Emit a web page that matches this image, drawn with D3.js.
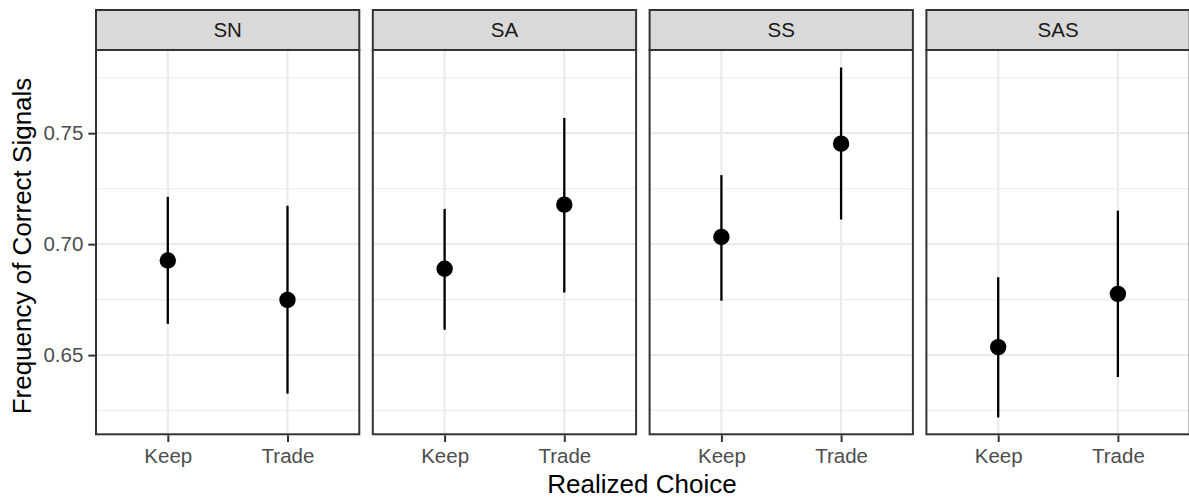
<!DOCTYPE html>
<html>
<head>
<meta charset="utf-8">
<script src="https://cdn.jsdelivr.net/npm/d3@7"></script>
<style>
  body { margin: 0; background: #fff; }
  text { font-family: "Liberation Sans", Arial, sans-serif; }
</style>
</head>
<body>
<div id="chart"></div>
<script>
// chart data
var facets = ["SN", "SA", "SS", "SAS"];
var choices = ["Keep", "Trade"];
var yTicks = [0.65, 0.70, 0.75];
var yMinor = [0.625, 0.675, 0.725, 0.775];

// mean, lower, upper for each facet, in choices order
var means = {
  SN:  [0.6926, 0.6749],
  SA:  [0.6889, 0.7178],
  SS:  [0.7032, 0.7453],
  SAS: [0.6536, 0.6776]
};
var lowers = {
  SN:  [0.6641, 0.6326],
  SA:  [0.6614, 0.6782],
  SS:  [0.6745, 0.7111],
  SAS: [0.6219, 0.6401]
};
var uppers = {
  SN:  [0.7213, 0.7173],
  SA:  [0.7159, 0.7569],
  SS:  [0.7311, 0.7796],
  SAS: [0.6851, 0.7151]
};

var width = 1189;
var height = 500;

var panelTop = 50, panelBottom = 434.3;
var stripTop = 10;

var svg = d3.select("#chart").append("svg")
    .attr("width", width)
    .attr("height", height);

// panels laid out side by side
var facetScale = d3.scaleBand()
    .domain(facets)
    .range([96, 1189.7])
    .paddingInner(0.0488)
    .paddingOuter(0);

var y = d3.scaleLinear()
    .domain([0.6143, 0.7875])
    .range([panelBottom, panelTop]);

facets.forEach(function(f, fi) {
  var x0 = facetScale(f);
  var bw = facetScale.bandwidth();
  var x = d3.scalePoint().domain(choices).range([x0, x0 + bw]).padding(0.6);

  var g = svg.append("g");

  // background
  g.append("rect")
    .attr("x", x0).attr("y", panelTop)
    .attr("width", bw).attr("height", panelBottom - panelTop)
    .attr("fill", "#fff");

  // minor grid
  g.selectAll(".minor").data(yMinor).enter().append("line")
    .attr("x1", x0).attr("x2", x0 + bw)
    .attr("y1", function(d) { return y(d); })
    .attr("y2", function(d) { return y(d); })
    .attr("stroke", "#ebebeb").attr("stroke-width", 1.1);

  // major grid
  g.selectAll(".majory").data(yTicks).enter().append("line")
    .attr("x1", x0).attr("x2", x0 + bw)
    .attr("y1", function(d) { return y(d); })
    .attr("y2", function(d) { return y(d); })
    .attr("stroke", "#ebebeb").attr("stroke-width", 2.2);

  g.selectAll(".majorx").data(choices).enter().append("line")
    .attr("x1", function(d) { return x(d); })
    .attr("x2", function(d) { return x(d); })
    .attr("y1", panelTop).attr("y2", panelBottom)
    .attr("stroke", "#ebebeb").attr("stroke-width", 2.2);

  // error bars + points
  var rows = choices.map(function(c, i) {
    return {c: c, m: means[f][i], lo: lowers[f][i], hi: uppers[f][i]};
  });

  g.selectAll(".bar").data(rows).enter().append("line")
    .attr("x1", function(d) { return x(d.c); })
    .attr("x2", function(d) { return x(d.c); })
    .attr("y1", function(d) { return y(d.lo); })
    .attr("y2", function(d) { return y(d.hi); })
    .attr("stroke", "#000").attr("stroke-width", 2.3);

  g.selectAll(".pt").data(rows).enter().append("circle")
    .attr("cx", function(d) { return x(d.c); })
    .attr("cy", function(d) { return y(d.m); })
    .attr("r", 8.2)
    .attr("fill", "#000");

  // panel border
  g.append("rect")
    .attr("x", x0).attr("y", panelTop)
    .attr("width", bw).attr("height", panelBottom - panelTop)
    .attr("fill", "none").attr("stroke", "#333").attr("stroke-width", 2);

  // strip
  g.append("rect")
    .attr("x", x0).attr("y", stripTop)
    .attr("width", bw).attr("height", panelTop - stripTop)
    .attr("fill", "#d9d9d9").attr("stroke", "#333").attr("stroke-width", 2);

  g.append("text")
    .attr("x", x0 + bw / 2).attr("y", 37.3)
    .attr("text-anchor", "middle")
    .attr("font-size", "20.5px")
    .attr("fill", "#1a1a1a")
    .text(f);

  // x axis
  var xAxis = d3.axisBottom(x).tickSize(6.7).tickPadding(6);
  var xa = g.append("g")
    .attr("transform", "translate(0," + (panelBottom + 1) + ")")
    .call(xAxis);
  xa.select(".domain").remove();
  xa.selectAll(".tick line").attr("stroke", "#333").attr("stroke-width", 2);
  xa.selectAll(".tick text")
    .attr("font-size", "20.5px")
    .attr("fill", "#4d4d4d")
    .attr("font-family", "Liberation Sans, Arial, sans-serif");

  // y axis only on first panel
  if (fi === 0) {
    var yAxis = d3.axisLeft(y).tickValues(yTicks).tickFormat(d3.format(".2f"))
        .tickSize(6.7).tickPadding(5);
    var ya = svg.append("g")
      .attr("transform", "translate(" + (x0 - 1) + ",0)")
      .call(yAxis);
    ya.select(".domain").remove();
    ya.selectAll(".tick line").attr("stroke", "#333").attr("stroke-width", 2);
    ya.selectAll(".tick text")
      .attr("font-size", "20.5px")
      .attr("fill", "#4d4d4d")
      .attr("font-family", "Liberation Sans, Arial, sans-serif");
  }
});

// axis titles
svg.append("text")
  .attr("x", 642)
  .attr("y", 493)
  .attr("text-anchor", "middle")
  .attr("font-size", "26px")
  .attr("fill", "#000")
  .text("Realized Choice");

svg.append("text")
  .attr("transform", "translate(31,246) rotate(-90)")
  .attr("text-anchor", "middle")
  .attr("font-size", "26px")
  .attr("fill", "#000")
  .text("Frequency of Correct Signals");
</script>
</body>
</html>
